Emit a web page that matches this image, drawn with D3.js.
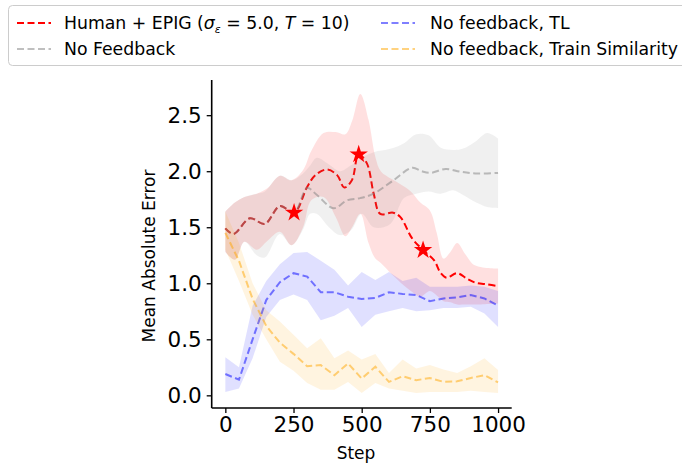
<!DOCTYPE html>
<html>
<head>
<meta charset="utf-8">
<script src="https://cdn.jsdelivr.net/npm/d3@7"></script>
<style>
  * { margin: 0; padding: 0; }
  body { background: #fff; }
  svg { display: block; font-family: "DejaVu Sans", sans-serif; }
</style>
</head>
<body>
<div id="chart"></div>
<script>
// values

// Human + EPIG
var humanSteps = [0, 30, 90, 145, 200, 252, 300, 330, 372, 410, 436, 464, 489, 519, 544, 568, 615, 642, 685, 725, 765, 790, 811, 850, 887, 918, 961, 1000];
var humanMean = [1.49, 1.44, 1.58, 1.53, 1.69, 1.63, 1.86, 1.965, 2.015, 1.965, 1.855, 1.92, 2.15, 2.07, 1.80, 1.62, 1.63, 1.59, 1.40, 1.296, 1.207, 1.09, 1.05, 1.09, 1.04, 1.005, 0.99, 0.975];
var humanBandSteps = [0, 35, 70, 115, 155, 200, 243, 285, 315, 360, 405, 440, 465, 495, 525, 550, 570, 610, 645, 680, 715, 750, 775, 800, 825, 850, 880, 915, 1000];
var humanUpper = [1.64, 1.72, 1.77, 1.80, 1.85, 1.96, 1.92, 2.01, 2.18, 2.34, 2.35, 2.33, 2.45, 2.69, 2.46, 2.13, 2.0, 1.93, 1.88, 1.82, 1.72, 1.65, 1.45, 1.22, 1.28, 1.36, 1.26, 1.16, 1.13];
var humanLower = [1.28, 1.21, 1.37, 1.30, 1.38, 1.46, 1.34, 1.50, 1.74, 1.77, 1.59, 1.42, 1.50, 1.62, 1.36, 1.22, 1.18, 1.08, 1.0, 0.93, 0.88, 0.93, 0.89, 0.84, 0.83, 0.81, 0.81, 0.81, 0.82];

// feedback moments (stars)
var starSteps = [252, 489, 725];
var starValues = [1.63, 2.15, 1.296];

// No Feedback
var noFbSteps = [0, 30, 90, 145, 200, 252, 300, 335, 397, 446, 495, 544, 617, 685, 720, 752, 808, 863, 924, 1000];
var noFbMean = [1.49, 1.44, 1.58, 1.53, 1.69, 1.63, 1.85, 1.79, 1.67, 1.74, 1.76, 1.80, 1.92, 2.03, 2.00, 1.985, 2.02, 1.995, 1.98, 1.985];
var noFbBandSteps = [0, 35, 70, 115, 145, 200, 243, 285, 311, 335, 380, 420, 460, 500, 544, 605, 655, 700, 745, 790, 835, 870, 920, 960, 1000];
var noFbUpper = [1.64, 1.72, 1.77, 1.80, 1.82, 1.96, 1.92, 1.98, 2.05, 2.12, 2.06, 2.0, 2.05, 2.12, 2.17, 2.20, 2.25, 2.33, 2.32, 2.21, 2.19, 2.20, 2.27, 2.34, 2.29];
var noFbLower = [1.28, 1.21, 1.37, 1.25, 1.23, 1.44, 1.34, 1.48, 1.62, 1.62, 1.50, 1.43, 1.47, 1.62, 1.50, 1.53, 1.76, 1.80, 1.82, 1.80, 1.83, 1.79, 1.72, 1.68, 1.67];

// the two baselines are logged every 50 steps
var gridSteps = [0, 50, 100, 150, 200, 250, 300, 350, 400, 450, 500, 550, 600, 650, 700, 750, 800, 850, 900, 950, 1000];

// No feedback, TL
var tlMean = [0.19, 0.14, 0.50, 0.85, 1.01, 1.09, 1.06, 0.92, 0.92, 0.88, 0.86, 0.87, 0.92, 0.905, 0.895, 0.84, 0.865, 0.875, 0.895, 0.865, 0.80];
var tlUpper = [0.34, 0.25, 0.80, 1.02, 1.17, 1.27, 1.28, 1.20, 1.12, 0.98, 1.10, 1.03, 1.10, 1.02, 1.05, 0.97, 0.97, 0.97, 0.98, 0.97, 0.93];
var tlLower = [0.03, 0.06, 0.33, 0.70, 0.85, 0.90, 0.85, 0.67, 0.71, 0.78, 0.61, 0.72, 0.75, 0.78, 0.75, 0.76, 0.78, 0.78, 0.79, 0.73, 0.61];

// No feedback, Train Similarity
var simMean = [1.45, 1.20, 0.86, 0.62, 0.47, 0.37, 0.26, 0.27, 0.18, 0.285, 0.15, 0.255, 0.12, 0.17, 0.135, 0.155, 0.12, 0.125, 0.155, 0.18, 0.115];
var simUpper = [1.64, 1.36, 1.0, 0.76, 0.66, 0.54, 0.42, 0.51, 0.33, 0.40, 0.32, 0.37, 0.20, 0.32, 0.24, 0.27, 0.23, 0.20, 0.26, 0.33, 0.225];
var simLower = [1.30, 1.02, 0.72, 0.50, 0.30, 0.22, 0.11, 0.05, 0.05, 0.12, 0.02, 0.11, 0.06, 0.04, 0.02, 0.03, 0.03, 0.03, 0.04, 0.03, 0.02];

var xTicks = [0, 250, 500, 750, 1000];
var yTicks = [0, 0.5, 1.0, 1.5, 2.0, 2.5];

var W = 682, H = 466;
var plotLeft = 211.7, plotRight = 511.7, plotTop = 80, plotBottom = 408;

var svg = d3.select("#chart").append("svg")
    .attr("width", W)
    .attr("height", H);

var x = d3.scaleLinear().domain([-50, 1050]).range([plotLeft, plotRight]);
var y = d3.scaleLinear().domain([-0.113, 2.814]).range([plotBottom, plotTop]);

function zip(steps, a, b) {
    return steps.map(function (s, i) { return { s: s, a: a[i], b: b ? b[i] : null }; });
}

function drawSeries(color, lineData, bandData, curve) {
    var area = d3.area()
        .x(d => x(d.s))
        .y0(d => y(d.b))
        .y1(d => y(d.a))
        .curve(curve);
    var line = d3.line()
        .x(d => x(d.s))
        .y(d => y(d.a))
        .curve(curve);
    svg.append("path")
        .datum(bandData)
        .attr("d", area)
        .style("fill", color)
        .style("fill-opacity", 0.12)
        .style("stroke", "none");
    svg.append("path")
        .datum(lineData)
        .attr("d", line)
        .style("fill", "none")
        .style("stroke", color)
        .style("stroke-opacity", color == "red" ? 1 : 0.5)
        .style("stroke-width", 2)
        .style("stroke-dasharray", "7,3.5");
}

var smooth = d3.curveCatmullRom.alpha(0.5);

drawSeries("red", zip(humanSteps, humanMean), zip(humanBandSteps, humanUpper, humanLower), smooth);
drawSeries("gray", zip(noFbSteps, noFbMean), zip(noFbBandSteps, noFbUpper, noFbLower), smooth);
drawSeries("blue", zip(gridSteps, tlMean), zip(gridSteps, tlUpper, tlLower), d3.curveLinear);
drawSeries("orange", zip(gridSteps, simMean), zip(gridSteps, simUpper, simLower), d3.curveLinear);

svg.selectAll(".star")
    .data(zip(starSteps, starValues))
    .enter()
    .append("path")
    .attr("transform", d => "translate(" + x(d.s) + "," + y(d.a) + ")")
    .attr("d", d3.symbol().type(d3.symbolStar).size(105))
    .style("fill", "red");

// axes: only left and bottom spines
var xAxis = svg.append("g")
    .attr("transform", "translate(0," + plotBottom + ")")
    .call(d3.axisBottom(x).tickValues(xTicks).tickFormat(d3.format("d")).tickSize(5).tickPadding(4));
var yAxis = svg.append("g")
    .attr("transform", "translate(" + plotLeft + ",0)")
    .call(d3.axisLeft(y).tickValues(yTicks).tickFormat(d3.format(".1f")).tickSize(5).tickPadding(5));

[xAxis, yAxis].forEach(function (g) {
    g.attr("font-size", null).attr("font-family", null);
    g.select(".domain").attr("stroke", "#000").attr("stroke-width", 1.6);
    g.selectAll(".tick line").attr("stroke", "#000").attr("stroke-width", 1.3);
    g.selectAll(".tick text")
        .attr("fill", "#000")
        .style("font-size", "21.5px");
});
xAxis.select(".domain").attr("d", "M" + plotLeft + ",0H" + plotRight);
yAxis.select(".domain").attr("d", "M0," + plotTop + "V" + plotBottom);

svg.append("text")
    .attr("x", 356)
    .attr("y", 459)
    .attr("text-anchor", "middle")
    .style("font-size", "17px")
    .text("Step");

svg.append("text")
    .attr("transform", "translate(155,256) rotate(-90)")
    .attr("text-anchor", "middle")
    .style("font-size", "17px")
    .text("Mean Absolute Error");

// legend
var legend = svg.append("g");
legend.append("rect")
    .attr("x", 8.5)
    .attr("y", 5.5)
    .attr("width", 680)
    .attr("height", 60)
    .attr("rx", 4)
    .style("fill", "#fff")
    .style("fill-opacity", 0.8)
    .style("stroke", "#cccccc")
    .style("stroke-width", 1);

var legendItems = [
    { color: "red", op: 1, lx: 17, ly: 23 },
    { color: "gray", op: 0.5, lx: 17, ly: 49 },
    { color: "blue", op: 0.5, lx: 381, ly: 23 },
    { color: "orange", op: 0.5, lx: 381, ly: 49 }
];
legendItems.forEach(function (d) {
    legend.append("line")
        .attr("x1", d.lx).attr("x2", d.lx + 34)
        .attr("y1", d.ly).attr("y2", d.ly)
        .style("stroke", d.color)
        .style("stroke-opacity", d.op)
        .style("stroke-width", 2)
        .style("stroke-dasharray", "7,3.5");
});

var t1 = legend.append("text").attr("x", 64).attr("y", 29).style("font-size", "17.3px");
t1.append("tspan").text("Human + EPIG (");
t1.append("tspan").style("font-style", "italic").text("σ");
t1.append("tspan").style("font-style", "italic").style("font-size", "11px").attr("dy", 4).text("ε");
t1.append("tspan").attr("dy", -4).text(" = 5.0, ");
t1.append("tspan").style("font-style", "italic").text("T");
t1.append("tspan").text(" = 10)");

legend.append("text").attr("x", 64).attr("y", 55).style("font-size", "17.3px").text("No Feedback");
legend.append("text").attr("x", 430).attr("y", 29).style("font-size", "17.3px").text("No feedback, TL");
legend.append("text").attr("x", 430).attr("y", 55).style("font-size", "17.3px").text("No feedback, Train Similarity");
</script>
</body>
</html>
